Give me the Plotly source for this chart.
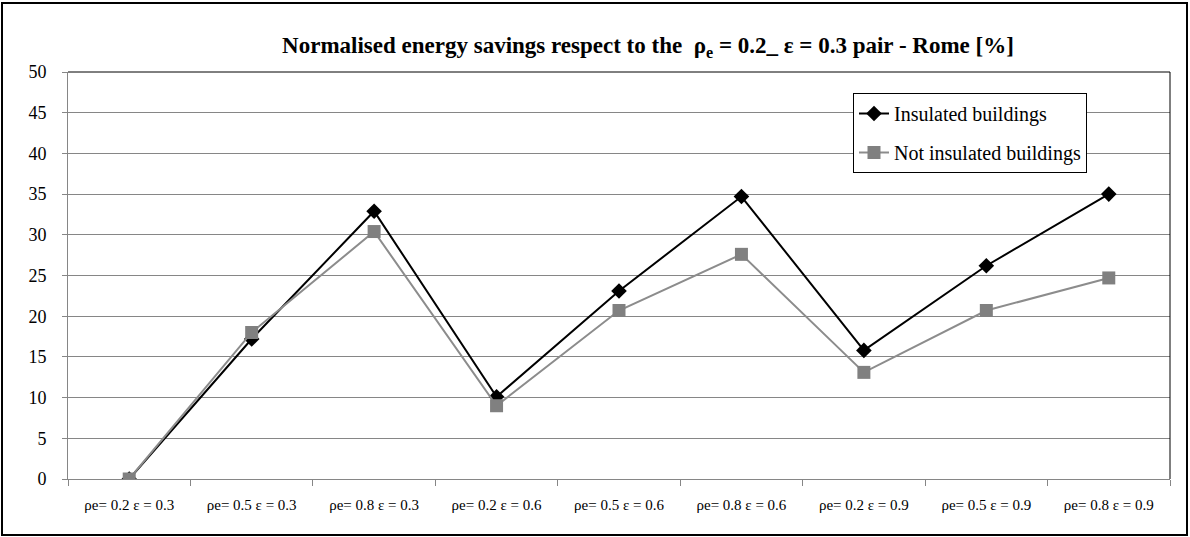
import plotly.graph_objects as go

# Category labels (reflectance / emissivity pairs)
categories = [
    "ρe= 0.2 ε = 0.3", "ρe= 0.5 ε = 0.3", "ρe= 0.8 ε = 0.3",
    "ρe= 0.2 ε = 0.6", "ρe= 0.5 ε = 0.6", "ρe= 0.8 ε = 0.6",
    "ρe= 0.2 ε = 0.9", "ρe= 0.5 ε = 0.9", "ρe= 0.8 ε = 0.9",
]
insulated = [0, 17.2, 32.9, 10.1, 23.1, 34.7, 15.8, 26.2, 35.0]
not_insulated = [0, 18.0, 30.4, 9.0, 20.7, 27.6, 13.1, 20.7, 24.7]
y_ticks = [0, 5, 10, 15, 20, 25, 30, 35, 40, 45, 50]

W, H = 1190, 537
ML, MR, MT, MB = 68, 20, 72, 58
pw, ph = W - ML - MR, H - MT - MB

serif = "Liberation Serif"

fig = go.Figure()
fig.add_trace(go.Scatter(
    x=categories, y=insulated, name="Insulated buildings",
    mode="lines+markers", legendgroup="a",
    line=dict(color="#000000", width=2),
    marker=dict(symbol="diamond", size=12, color="#000000"),
))
fig.add_trace(go.Scatter(
    x=categories, y=not_insulated, name="Not insulated buildings",
    mode="lines+markers", legendgroup="b",
    line=dict(color="#8c8c8c", width=2),
    marker=dict(symbol="square", size=13, color="#808080"),
))

def px_x(p):
    return (p - ML) / pw

def px_y(p):
    return (H - MB - p) / ph

shapes = [
    # outer frame
    dict(type="rect", xref="paper", yref="paper",
         x0=px_x(2), x1=px_x(1187), y0=px_y(535), y1=px_y(3),
         line=dict(color="#000000", width=2), layer="below"),
    # plot area top and right edges
    dict(type="line", xref="paper", yref="paper", x0=0, x1=1, y0=1, y1=1,
         line=dict(color="#000000", width=1)),
    dict(type="line", xref="paper", yref="paper", x0=1, x1=1, y0=0, y1=1,
         line=dict(color="#000000", width=1)),
]

fig.update_layout(
    width=W, height=H,
    margin=dict(l=ML, r=MR, t=MT, b=MB),
    paper_bgcolor="#ffffff", plot_bgcolor="#ffffff",
    font=dict(family=serif, color="#000000"),
    title=dict(
        text="<b>Normalised energy savings respect to the  ρ<sub>e</sub> = 0.2_ ε = 0.3 pair - Rome [%]</b>",
        x=0.5445, xref="container", xanchor="center",
        y=1 - 45 / H, yref="container", yanchor="middle",
        font=dict(family=serif, size=23, color="#000000"),
    ),
    xaxis=dict(
        type="category", range=[-0.5, 8.5],
        showgrid=False, showline=True, linecolor="#868686", linewidth=1,
        ticks="outside", ticklen=6, tickcolor="#868686", tickson="boundaries",
        tickfont=dict(family=serif, size=15, color="#000000"),
        ticklabelstandoff=12,
        zeroline=False,
    ),
    yaxis=dict(
        range=[0, 50], tickvals=y_ticks,
        showgrid=True, gridcolor="#868686", gridwidth=1,
        showline=True, linecolor="#868686", linewidth=1,
        ticks="outside", ticklen=5, tickcolor="#868686",
        tickfont=dict(family=serif, size=18, color="#000000"),
        ticklabelstandoff=12,
        zeroline=False,
    ),
    legend=dict(
        x=px_x(853), y=px_y(93), xanchor="left", yanchor="top",
        bgcolor="#ffffff", bordercolor="#000000", borderwidth=1,
        font=dict(family=serif, size=20, color="#000000"),
        tracegroupgap=10, itemwidth=30,
    ),
    shapes=shapes,
)

fig.write_html("out.html")
